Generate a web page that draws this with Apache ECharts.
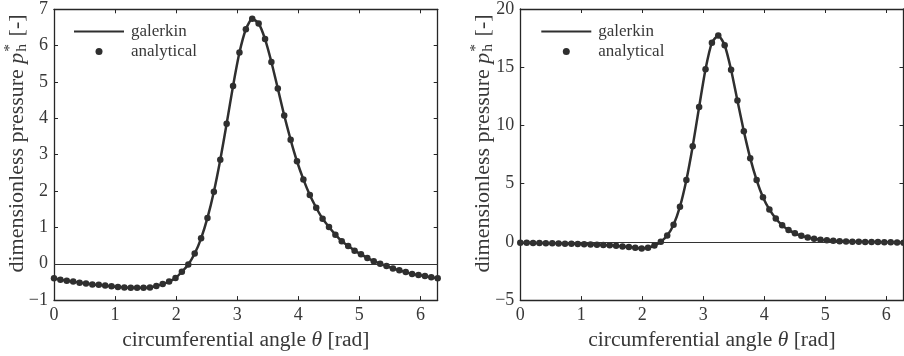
<!DOCTYPE html>
<html>
<head>
<meta charset="utf-8">
<script src="https://cdn.jsdelivr.net/npm/echarts@6/dist/echarts.min.js"></script>
<style>html,body{margin:0;padding:0;background:#fff;}#c{width:904px;height:356px;}</style>
</head>
<body>
<div id="c"></div>
<script>
// circumferential angle theta [rad] of the sample points
const theta = [0,0.105,0.209,0.314,0.419,0.524,0.628,0.733,0.838,0.942,1.047,1.152,1.257,1.361,1.466,1.571,1.676,1.780,1.885,1.990,2.094,2.199,2.304,2.409,2.513,2.618,2.723,2.827,2.932,3.037,3.142,3.246,3.351,3.456,3.560,3.665,3.770,3.875,3.979,4.084,4.189,4.294,4.398,4.503,4.608,4.712,4.817,4.922,5.027,5.131,5.236,5.341,5.445,5.550,5.655,5.760,5.864,5.969,6.074,6.178,6.283];
// left panel: dimensionless pressure
const pLeft = [-0.40,-0.44,-0.47,-0.49,-0.52,-0.54,-0.57,-0.58,-0.60,-0.62,-0.64,-0.65,-0.66,-0.66,-0.66,-0.65,-0.61,-0.56,-0.49,-0.39,-0.22,-0.02,0.28,0.70,1.26,1.98,2.86,3.85,4.89,5.81,6.45,6.74,6.61,6.18,5.55,4.82,4.08,3.41,2.82,2.32,1.89,1.54,1.24,1.01,0.80,0.62,0.49,0.36,0.26,0.16,0.07,0.00,-0.06,-0.13,-0.18,-0.23,-0.28,-0.31,-0.34,-0.37,-0.40];
// right panel: dimensionless pressure
const pRight = [-0.07,-0.08,-0.09,-0.10,-0.11,-0.12,-0.13,-0.15,-0.16,-0.18,-0.20,-0.22,-0.24,-0.27,-0.30,-0.34,-0.39,-0.44,-0.50,-0.56,-0.50,-0.32,0.02,0.55,1.48,3.02,5.31,8.22,11.58,14.82,17.11,17.73,16.89,14.79,12.14,9.51,7.19,5.31,3.84,2.79,2.01,1.42,1.03,0.74,0.52,0.37,0.26,0.19,0.13,0.09,0.06,0.04,0.02,0.01,0.00,-0.01,-0.02,-0.03,-0.04,-0.05,-0.07];
// axis ranges and tick steps
const xRange = [0, 6.283185307179586];
const xStep = 1;
const yLeftRange = [-1, 7];
const yLeftStep = 1;
const yRightRange = [-5, 20];
const yRightStep = 5;
const seriesNames = ['galerkin', 'analytical'];
const xTitle = 'circumferential angle ';
const yTitle = 'dimensionless pressure ';

const FONT = '"Liberation Serif", "Times New Roman", serif';
const TXT = '#383838';
const AX = '#262626';
const LINE = '#2f2f2f';

const chart = echarts.init(document.getElementById('c'), null, {renderer: 'canvas'});

function fmt(v) {
  if (Math.abs(v - Math.round(v)) > 1e-6) return '';
  return String(Math.round(v)).replace('-', '\u2212');
}

function grids() {
  return [
    {left: 54, top: 9.3, width: 383.7, height: 296.7},
    {left: 520.3, top: 8.7, width: 383.2, height: 298}
  ];
}

function xAxes() {
  const out = [];
  [0, 1].forEach(g => {
    out.push({
      type: 'value', gridIndex: g, position: 'bottom', min: xRange[0], max: xRange[1], interval: xStep,
      axisLine: {show: true, onZero: false, lineStyle: {color: AX, width: 1.3}},
      axisTick: {show: true, inside: true, length: 4, lineStyle: {color: AX, width: 1}},
      axisLabel: {show: true, margin: 6, fontFamily: FONT, fontSize: 18, color: TXT, formatter: fmt, showMaxLabel: false},
      splitLine: {show: false},
      name: '{a|' + xTitle + '}{b|\u03b8}{a| [rad]}', nameLocation: 'middle', nameGap: 24,
      nameTextStyle: {rich: {a: {fontFamily: FONT, fontSize: 21.6, color: TXT}, b: {fontFamily: FONT, fontSize: 21.6, fontStyle: 'italic', color: TXT}}}
    });
    out.push({
      type: 'value', gridIndex: g, position: 'top', min: xRange[0], max: xRange[1], interval: xStep,
      axisLine: {show: true, onZero: false, lineStyle: {color: AX, width: 1.3}},
      axisTick: {show: true, inside: true, length: 4, lineStyle: {color: AX, width: 1}},
      axisLabel: {show: false}, splitLine: {show: false}
    });
  });
  return out;
}

function yAxes() {
  const out = [];
  [[0, yLeftRange, yLeftStep], [1, yRightRange, yRightStep]].forEach(([g, r, s]) => {
    out.push({
      type: 'value', gridIndex: g, position: 'left', min: r[0], max: r[1], interval: s,
      axisLine: {show: true, onZero: false, lineStyle: {color: AX, width: 1.3}},
      axisTick: {show: true, inside: true, length: 4, lineStyle: {color: AX, width: 1}},
      axisLabel: {show: true, margin: 6, fontFamily: FONT, fontSize: 18, color: TXT, formatter: fmt},
      splitLine: {show: false}
    });
    out.push({
      type: 'value', gridIndex: g, position: 'right', min: r[0], max: r[1], interval: s,
      axisLine: {show: true, onZero: false, lineStyle: {color: AX, width: 1.3}},
      axisTick: {show: true, inside: true, length: 4, lineStyle: {color: AX, width: 1}},
      axisLabel: {show: false}, splitLine: {show: false}
    });
  });
  return out;
}

function seriesFor(xi, yi, vals) {
  const data = theta.map((t, i) => [t, vals[i]]);
  return [
    {
      type: 'line', name: seriesNames[0], xAxisIndex: xi, yAxisIndex: yi, data: data,
      symbol: 'none', smooth: 0.2, lineStyle: {color: LINE, width: 2.5}, itemStyle: {color: LINE},
      z: 3, silent: true,
      markLine: {silent: true, symbol: 'none', label: {show: false}, animation: false,
        lineStyle: {color: '#333', width: 1, type: 'solid'}, emphasis: {disabled: true}, data: [{yAxis: 0}]}
    },
    {
      type: 'scatter', name: seriesNames[1], xAxisIndex: xi, yAxisIndex: yi, data: data,
      symbol: 'circle', symbolSize: 6.5, itemStyle: {color: LINE, opacity: 1}, z: 4, silent: true
    }
  ];
}

function legendAt(left) {
  return {
    left: left, top: 23, orient: 'vertical', itemWidth: 50, itemHeight: 7, itemGap: 3, padding: 0,
    data: [{name: seriesNames[0], itemStyle: {opacity: 0}}, {name: seriesNames[1]}], selectedMode: false,
    textStyle: {fontFamily: FONT, fontSize: 17, color: TXT, padding: [0, 0, 0, 2]}
  };
}

// y-axis title with p (italic), superscript * and subscript h stacked
const mctx = document.createElement('canvas').getContext('2d');
function tw(txt, font) { mctx.font = font; return mctx.measureText(txt).width; }
function yTitleGraphic(cx, cy) {
  const fs = 22, sfs = 15.5;
  const fMain = fs + 'px ' + FONT, fIt = 'italic ' + fs + 'px ' + FONT, fSm = sfs + 'px ' + FONT;
  const w1 = tw(yTitle, fMain), wp = tw('p', fIt), wh = tw('h', fSm), ws = tw('*', fSm), w2 = tw(' [-]', fMain);
  const wsub = Math.max(wh, ws) + 2;
  const total = w1 + wp + wsub + w2;
  let x = -total / 2;
  const ch = [];
  const mk = (t, xx, yy, size, style) => ({type: 'text', x: xx, y: yy, silent: true,
    style: {text: t, fontFamily: FONT, fontSize: size, fontStyle: style || 'normal', fill: TXT, align: 'left', verticalAlign: 'middle'}});
  ch.push(mk(yTitle, x, 0, fs)); x += w1;
  ch.push(mk('p', x, 0, fs, 'italic')); x += wp + 1;
  ch.push(mk('*', x, -7, sfs));
  ch.push(mk('h', x, 5, sfs)); x += wsub;
  ch.push(mk(' [-]', x, 0, fs));
  return {type: 'group', x: cx, y: cy, rotation: Math.PI / 2, children: ch};
}

const option = {
  animation: false,
  backgroundColor: '#ffffff',
  grid: grids(),
  xAxis: xAxes(),
  yAxis: yAxes(),
  legend: [legendAt(73), legendAt(540.3)],
  series: [].concat(seriesFor(0, 0, pLeft), seriesFor(2, 2, pRight)),
  graphic: [yTitleGraphic(17, 144), yTitleGraphic(483.3, 144)]
};
chart.setOption(option);
</script>
</body>
</html>
